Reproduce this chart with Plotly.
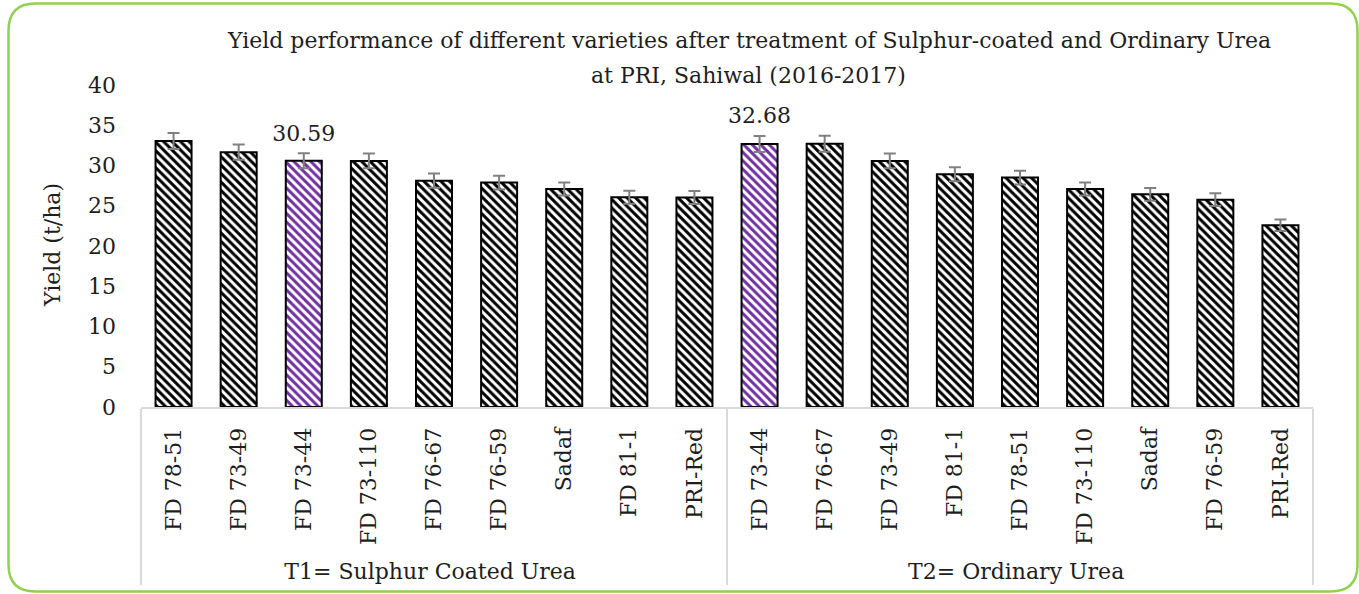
import plotly.graph_objects as go

# data
groups = ["T1= Sulphur Coated Urea"] * 9 + ["T2= Ordinary Urea"] * 9
varieties = ["FD 78-51", "FD 73-49", "FD 73-44", "FD 73-110", "FD 76-67",
             "FD 76-59", "Sadaf", "FD 81-1", "PRI-Red",
             "FD 73-44", "FD 76-67", "FD 73-49", "FD 81-1", "FD 78-51",
             "FD 73-110", "Sadaf", "FD 76-59", "PRI-Red"]
yields = [33.05, 31.65, 30.59, 30.57, 28.12, 27.88, 27.08, 26.05, 26.03,
          32.68, 32.70, 30.57, 28.90, 28.50, 27.08, 26.42, 25.76, 22.57]
errors = [1.0, 0.95, 0.92, 0.92, 0.88, 0.85, 0.82, 0.8, 0.8,
          1.0, 1.0, 0.92, 0.87, 0.85, 0.82, 0.8, 0.78, 0.72]
highlight = [False, False, True, False, False, False, False, False, False,
             True, False, False, False, False, False, False, False, False]

FONT = "DejaVu Serif"
TXT = "#1e1e1e"
W, H = 1359, 594
ML, MR, MT, MB = 141, 46, 85, 187
PW, PH = W - ML - MR, H - MT - MB

# multicategory keeps order of first appearance per level, so the second
# group gets an invisible suffix to keep its own order
group_names = list(dict.fromkeys(groups))
keys = [v + "\u200b" * group_names.index(g) for g, v in zip(groups, varieties)]

stripe = ["#7030A0" if h else "black" for h in highlight]

fig = go.Figure()

fig.add_trace(go.Bar(
    x=[groups, keys],
    y=yields,
    marker=dict(
        color="white",
        line=dict(color="black", width=2),
        pattern=dict(shape="\\", fgcolor=stripe, bgcolor="white",
                     size=6, solidity=0.5, fillmode="replace"),
    ),
    error_y=dict(type="data", array=errors, color="#808080",
                 thickness=2, width=6),
    showlegend=False,
))

# data labels for the highlighted bars
lab_g = [g for g, h in zip(groups, highlight) if h]
lab_k = [k for k, h in zip(keys, highlight) if h]
lab_y = [y + e for y, e, h in zip(yields, errors, highlight) if h]
lab_t = ["%.2f" % y for y, h in zip(yields, highlight) if h]
fig.add_trace(go.Scatter(
    x=[lab_g, lab_k], y=lab_y, text=lab_t, mode="markers+text",
    marker=dict(size=10, color="rgba(0,0,0,0)"),
    textposition="top center",
    textfont=dict(family=FONT, size=22, color=TXT),
    showlegend=False, hoverinfo="skip",
))


def to_paper(px, py):
    return (px - ML) / PW, (H - MB - py) / PH


# rounded green frame around the whole chart
def frame_path(x0, y0, x1, y1, r):
    def p(x, y):
        a, b = to_paper(x, y)
        return "%.5f,%.5f" % (a, b)
    pts = ["M" + p(x0 + r, y0),
           "L" + p(x1 - r, y0),
           "Q" + p(x1, y0) + " " + p(x1, y0 + r),
           "L" + p(x1, y1 - r),
           "Q" + p(x1, y1) + " " + p(x1 - r, y1),
           "L" + p(x0 + r, y1),
           "Q" + p(x0, y1) + " " + p(x0, y1 - r),
           "L" + p(x0, y0 + r),
           "Q" + p(x0, y0) + " " + p(x0 + r, y0)]
    return " ".join(pts) + " Z"


fig.add_shape(type="path", xref="paper", yref="paper",
              path=frame_path(8.5, 3.5, 1357.5, 591.5, 27),
              line=dict(color="#92D050", width=2.5), layer="above")

# title lines
t1x, t1y = to_paper(749, 40)
t2x, t2y = to_paper(749, 75)
fig.add_annotation(x=t1x, y=t1y, xref="paper", yref="paper",
                   text="Yield performance of different varieties after treatment of Sulphur-coated and Ordinary Urea",
                   showarrow=False, xanchor="center", yanchor="middle",
                   font=dict(family=FONT, size=22, color=TXT))
fig.add_annotation(x=t2x, y=t2y, xref="paper", yref="paper",
                   text="at PRI, Sahiwal (2016-2017)",
                   showarrow=False, xanchor="center", yanchor="middle",
                   font=dict(family=FONT, size=22, color=TXT))

# y axis title
ax_, ay_ = to_paper(52, 245)
fig.add_annotation(x=ax_, y=ay_, xref="paper", yref="paper",
                   text="Yield (t/ha)", textangle=-90, showarrow=False,
                   xanchor="center", yanchor="middle",
                   font=dict(family=FONT, size=22, color=TXT))

fig.update_layout(
    width=W, height=H,
    margin=dict(l=ML, r=MR, t=MT, b=MB, autoexpand=False),
    paper_bgcolor="white",
    plot_bgcolor="white",
    bargap=0.447,
    font=dict(family=FONT, size=22, color=TXT),
    xaxis=dict(
        type="multicategory",
        tickangle=-90,
        tickfont=dict(family=FONT, size=22, color=TXT),
        showline=True, linecolor="#d9d9d9", linewidth=2,
        showdividers=True, dividercolor="#d9d9d9", dividerwidth=2,
        showgrid=False, ticks="",
        ticklabelstandoff=10,
    ),
    yaxis=dict(
        range=[0, 40], dtick=5,
        showgrid=False, zeroline=False, showline=False,
        tickfont=dict(family=FONT, size=22, color=TXT),
        ticklabelstandoff=24,
    ),
)

fig.write_html("out.html", config={"displayModeBar": False},
               post_script="document.body.style.margin='0';")
